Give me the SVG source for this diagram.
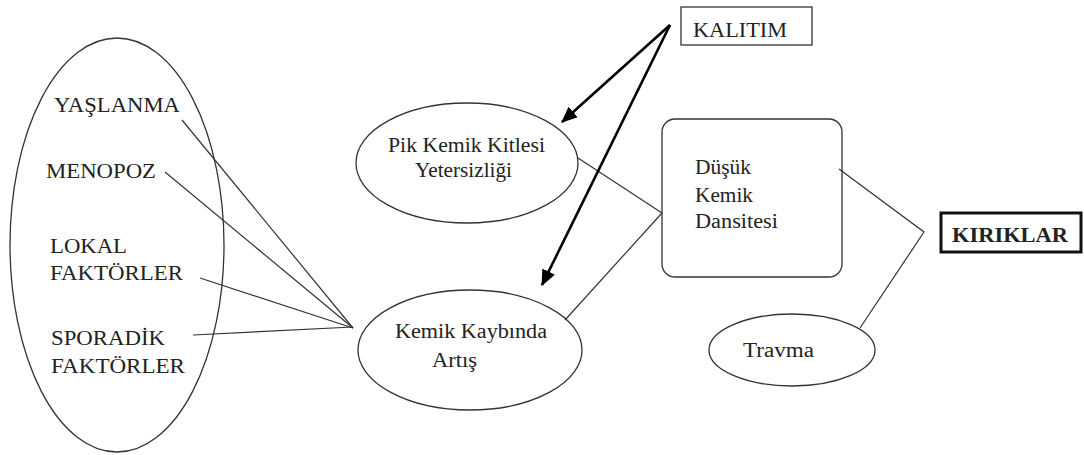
<svg xmlns="http://www.w3.org/2000/svg" width="1084" height="455" viewBox="0 0 1084 455">
<defs>
<marker id="arr" markerWidth="16" markerHeight="14" refX="15" refY="7" orient="auto" markerUnits="userSpaceOnUse">
<path d="M0,0 L16,7 L0,14 Z" fill="#000"/>
</marker>
<style>
.t{font-family:"Liberation Serif","Times New Roman",serif;font-size:20.5px;fill:#222}
.s{fill:#fff;stroke:#333;stroke-width:1.3}
.c{stroke:#333;stroke-width:1.2;fill:none}
.a{stroke:#000;stroke-width:2.6;fill:none}
</style>
</defs>
<rect width="1084" height="455" fill="#fff"/>
<g id="factors">
<ellipse class="s" cx="117" cy="245" rx="107" ry="207"/>
<text class="t" x="54" y="112" textLength="126" lengthAdjust="spacingAndGlyphs">YAŞLANMA</text>
<text class="t" x="46" y="178" textLength="110" lengthAdjust="spacingAndGlyphs">MENOPOZ</text>
<text class="t" x="50" y="253" textLength="77" lengthAdjust="spacingAndGlyphs">LOKAL</text>
<text class="t" x="50" y="280" textLength="133" lengthAdjust="spacingAndGlyphs">FAKTÖRLER</text>
<text class="t" x="51" y="345" textLength="114" lengthAdjust="spacingAndGlyphs">SPORADİK</text>
<text class="t" x="51" y="373" textLength="134" lengthAdjust="spacingAndGlyphs">FAKTÖRLER</text>
</g>
<g id="kalitim">
<rect class="s" x="681" y="7" width="131" height="38"/>
<text class="t" x="693" y="37" textLength="94" lengthAdjust="spacingAndGlyphs">KALITIM</text>
</g>
<g id="pik">
<ellipse class="s" cx="467" cy="163" rx="111" ry="60"/>
<text class="t" x="388" y="152" textLength="157" lengthAdjust="spacingAndGlyphs">Pik Kemik Kitlesi</text>
<text class="t" x="415" y="177" textLength="97" lengthAdjust="spacingAndGlyphs">Yetersizliği</text>
</g>
<g id="kayip">
<ellipse class="s" cx="470" cy="350" rx="112" ry="60"/>
<text class="t" x="395" y="338" textLength="152" lengthAdjust="spacingAndGlyphs">Kemik Kaybında</text>
<text class="t" x="432" y="367" textLength="45" lengthAdjust="spacingAndGlyphs">Artış</text>
</g>
<g id="dansite">
<rect class="s" x="662" y="119" width="180" height="158" rx="13"/>
<text class="t" x="695" y="174" textLength="56" lengthAdjust="spacingAndGlyphs">Düşük</text>
<text class="t" x="695" y="202" textLength="58" lengthAdjust="spacingAndGlyphs">Kemik</text>
<text class="t" x="695" y="228" textLength="83" lengthAdjust="spacingAndGlyphs">Dansitesi</text>
</g>
<g id="travma">
<ellipse class="s" cx="792" cy="350" rx="83" ry="36"/>
<text class="t" x="743" y="357" textLength="71" lengthAdjust="spacingAndGlyphs">Travma</text>
</g>
<g id="kiriklar">
<rect x="941" y="213" width="140" height="39" fill="#fff" stroke="#111" stroke-width="3"/>
<text class="t" x="952" y="242" font-weight="bold" fill="#111" textLength="116" lengthAdjust="spacingAndGlyphs">KIRIKLAR</text>
</g>
<g id="connectors">
<line class="c" x1="182" y1="120" x2="353" y2="328"/>
<line class="c" x1="165" y1="172" x2="353" y2="328"/>
<line class="c" x1="200" y1="278" x2="353" y2="328"/>
<line class="c" x1="193" y1="335" x2="353" y2="327"/>
<line class="c" x1="578" y1="158" x2="662" y2="213"/>
<line class="c" x1="565" y1="320" x2="662" y2="213"/>
<polyline class="c" points="839,169 924,232 860,328"/>
<line class="a" x1="670" y1="25" x2="562" y2="122" marker-end="url(#arr)"/>
<line class="a" x1="670" y1="25" x2="542" y2="285" marker-end="url(#arr)"/>
</g>
</svg>
